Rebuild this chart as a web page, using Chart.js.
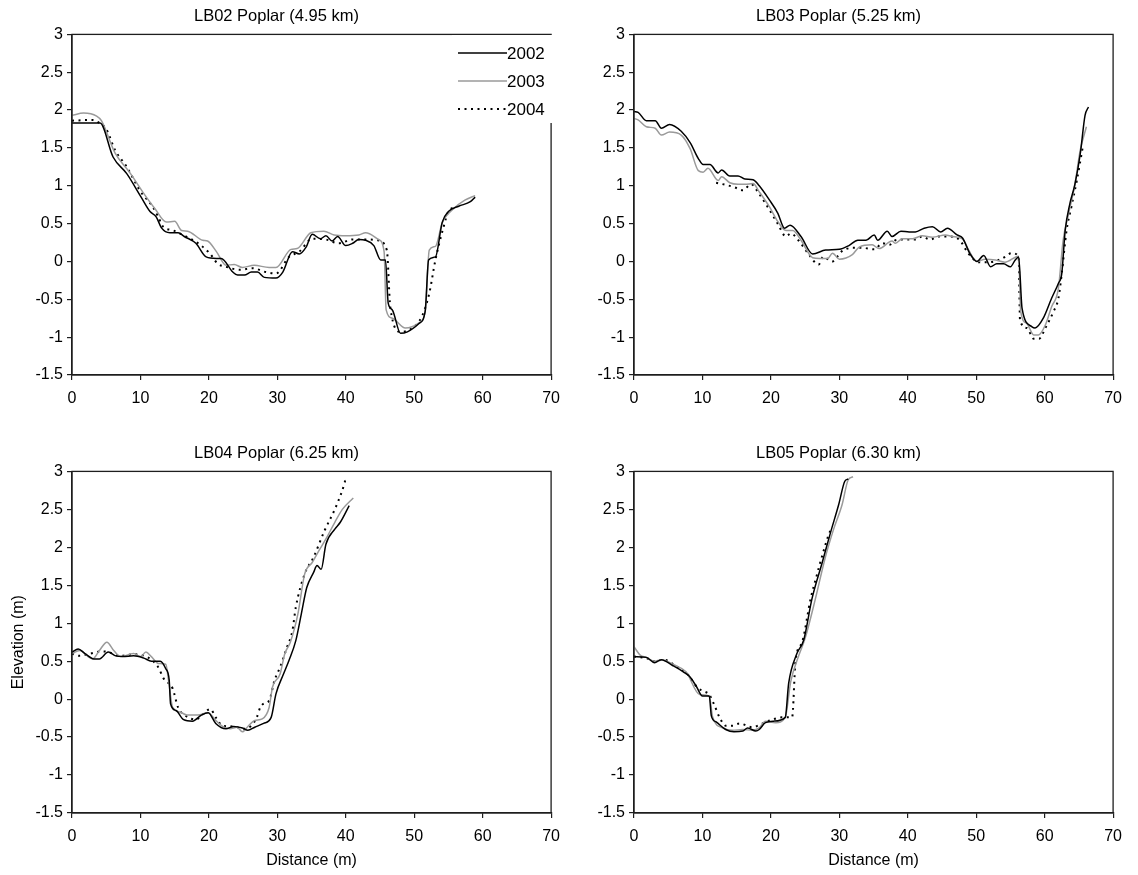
<!DOCTYPE html>
<html>
<head>
<meta charset="utf-8">
<script src="https://cdn.jsdelivr.net/npm/chart.js@4.4.1/dist/chart.umd.min.js"></script>
<style>
  html, body { margin: 0; padding: 0; background: #fff; }
  #wrap { position: relative; width: 1138px; height: 875px; overflow: hidden; background: #fff; }
  canvas { position: absolute; }
</style>
</head>
<body>
<div id="wrap">
  <canvas id="c1" width="569" height="437" style="left:0;top:0"></canvas>
  <canvas id="c2" width="569" height="437" style="left:562px;top:0"></canvas>
  <canvas id="c3" width="569" height="438" style="left:0;top:437px"></canvas>
  <canvas id="c4" width="569" height="438" style="left:562px;top:437px"></canvas>
</div>
<script>
// ---------- data: [distance (m), elevation (m)] ----------
const YEARS = ['2002', '2003', '2004'];
const PANEL_TITLES = ['LB02 Poplar (4.95 km)', 'LB03 Poplar (5.25 km)', 'LB04 Poplar (6.25 km)', 'LB05 Poplar (6.30 km)'];
const DIST_TICKS = [0, 10, 20, 30, 40, 50, 60, 70];
const ELEV_TICKS = [-1.5, -1, -0.5, 0, 0.5, 1, 1.5, 2, 2.5, 3];

const LB02_2002 = [[0,1.83],[4.1,1.83],[6.0,1.38],[8,1.16],[10.1,0.85],[11.4,0.66],[12.3,0.59],[13.1,0.44],[14.3,0.38],[15.5,0.38],[16.4,0.33],[18.1,0.24],[19.6,0.06],[21.1,0.04],[21.8,0.04],[23.5,-0.14],[24.2,-0.18],[25.2,-0.18],[26.2,-0.14],[27.1,-0.14],[28.1,-0.21],[29.8,-0.22],[30.8,-0.14],[32.2,0.13],[33.2,0.10],[34.2,0.19],[35.1,0.36],[36.3,0.30],[37.1,0.34],[38.0,0.27],[38.8,0.33],[40.0,0.21],[41,0.24],[41.9,0.29],[42.9,0.28],[44.1,0.21],[45.1,0.02],[45.8,0.02],[46.2,-0.55],[46.8,-0.64],[48.0,-0.95],[49.0,-0.93],[50.7,-0.82],[51.6,-0.66],[52.1,0.02],[53.1,0.06],[54.1,0.52],[55.0,0.66],[56.5,0.73],[58.2,0.79],[58.9,0.85]];
const LB02_2003 = [[0,1.93],[1.7,1.96],[3.6,1.92],[4.3,1.86],[6.3,1.43],[8.4,1.18],[10.4,0.91],[12.1,0.70],[13.8,0.52],[15.0,0.53],[16.0,0.41],[16.9,0.40],[19.1,0.28],[19.8,0.27],[21.1,0.13],[22.5,-0.05],[23.7,-0.04],[24.9,-0.08],[26.6,-0.05],[28.8,-0.08],[29.8,-0.08],[32.0,0.16],[32.9,0.17],[34.9,0.38],[36.8,0.40],[38.3,0.35],[40,0.34],[41.9,0.35],[42.9,0.38],[44.8,0.29],[45.6,0.13],[45.9,-0.64],[46.8,-0.75],[48.7,-0.88],[50.7,-0.81],[51.6,-0.66],[52.2,0.15],[53.1,0.20],[54.1,0.51],[55.8,0.70],[57.4,0.81],[58.9,0.87]];
const LB02_2004 = [[0,1.86],[3.1,1.87],[3.8,1.84],[5.0,1.75],[6.3,1.47],[8.0,1.25],[9.9,0.94],[11.8,0.72],[12.6,0.59],[13.3,0.46],[14.8,0.41],[16.2,0.35],[18.1,0.26],[20.1,0.11],[21.3,-0.03],[22.5,-0.07],[24.5,-0.11],[26.4,-0.09],[28.3,-0.14],[29.8,-0.16],[31.7,0.06],[33.2,0.13],[35.1,0.30],[37.1,0.29],[39.0,0.24],[41.0,0.29],[43.4,0.29],[44.6,0.28],[46.0,0.15],[46.5,-0.60],[48.0,-0.93],[49.7,-0.88],[51.1,-0.73],[52.2,-0.42],[53.1,0.02],[54.3,0.46],[55.0,0.66],[56.0,0.72]];

const LB03_2002 = [[0,1.98],[0.6,1.97],[1.8,1.86],[3.1,1.86],[4.0,1.76],[5.2,1.81],[6.9,1.72],[8.2,1.57],[9.4,1.36],[10.1,1.28],[11.1,1.28],[12.3,1.17],[12.8,1.21],[14.0,1.13],[15.2,1.13],[16.2,1.09],[17.4,1.08],[18.3,1.00],[19.8,0.81],[21.0,0.64],[22.0,0.44],[22.8,0.48],[24.4,0.33],[26.1,0.10],[28.0,0.15],[30.0,0.16],[31.4,0.21],[32.7,0.28],[33.9,0.28],[35.1,0.35],[35.6,0.28],[37.0,0.40],[37.7,0.33],[39.0,0.40],[40.2,0.39],[41.1,0.39],[42.4,0.44],[43.6,0.46],[44.8,0.39],[45.8,0.44],[47.2,0.35],[48.0,0.31],[49.1,0.10],[50.1,0.00],[51.1,0.08],[52.1,-0.07],[53.0,-0.03],[54.0,-0.03],[55.0,-0.07],[55.7,0.02],[56.2,0.06],[56.7,-0.62],[58.1,-0.86],[58.6,-0.88],[59.8,-0.75],[61.0,-0.49],[62.0,-0.29],[62.5,-0.16],[63.0,0.41],[63.7,0.77],[64.4,1.01],[65.2,1.42],[65.9,1.93],[66.4,2.04]];
const LB03_2003 = [[0,1.89],[0.6,1.87],[1.8,1.78],[3.1,1.76],[4.0,1.67],[5.2,1.71],[6.9,1.67],[8.2,1.49],[9.4,1.20],[10.1,1.18],[10.8,1.23],[12.3,1.07],[12.8,1.12],[14.0,1.04],[15.2,1.02],[16.2,1.02],[17.4,1.03],[18.3,0.92],[19.8,0.72],[21.0,0.53],[22.2,0.41],[23.2,0.41],[24.4,0.28],[26.1,0.05],[27.1,0.04],[28.3,0.04],[29.0,0.11],[30.0,0.03],[31.9,0.09],[32.9,0.19],[34.8,0.22],[35.8,0.17],[37.7,0.27],[38.2,0.24],[39.2,0.30],[40.7,0.30],[42.1,0.34],[43.6,0.32],[45.5,0.35],[46.5,0.33],[48.0,0.30],[48.9,0.15],[50.1,0.00],[51.3,0.03],[52.8,0.02],[54.2,-0.01],[56.2,0.07],[56.5,-0.66],[57.4,-0.82],[58.4,-0.97],[59.1,-0.97],[60.1,-0.84],[61.0,-0.60],[62.0,-0.36],[62.7,0.28],[63.5,0.63],[64.4,1.01],[65.2,1.47],[66.1,1.78]];
const LB03_2004 = [[12.0,1.04],[13.5,1.01],[14.7,0.98],[15.9,0.94],[17.1,1.02],[18.3,0.89],[19.8,0.68],[21.0,0.50],[22.2,0.33],[22.9,0.37],[24.2,0.26],[25.4,0.11],[27.0,-0.04],[27.6,0.06],[29.0,0.00],[30.3,0.13],[32.0,0.18],[33.4,0.18],[35.1,0.16],[36.3,0.24],[37.3,0.22],[38.2,0.28],[39.7,0.29],[41.1,0.29],[42.1,0.33],[43.3,0.29],[44.5,0.33],[46.0,0.33],[47.5,0.29],[48.9,0.10],[50.4,-0.01],[51.8,-0.01],[53.8,0.04],[55.2,0.11],[56.2,0.06],[56.4,-0.77],[57.4,-0.88],[58.4,-1.02],[59.2,-1.02],[60.1,-0.88],[61.3,-0.66],[62.0,-0.49],[62.5,-0.16],[63.2,0.41],[63.9,0.72],[64.7,1.07],[65.6,1.53]];

const LB04_2002 = [[0,0.62],[0.9,0.66],[1.9,0.60],[3.2,0.53],[4.0,0.53],[5.3,0.62],[6.4,0.57],[7.4,0.56],[9.0,0.57],[10.5,0.54],[11.6,0.50],[12.9,0.50],[13.7,0.40],[14.2,0.25],[14.4,-0.06],[15.2,-0.15],[16.3,-0.27],[17.6,-0.29],[18.9,-0.21],[19.9,-0.18],[21.0,-0.32],[22.5,-0.39],[23.6,-0.36],[24.9,-0.38],[25.7,-0.41],[26.7,-0.37],[28.0,-0.32],[29.1,-0.24],[29.8,0.07],[30.9,0.33],[31.7,0.51],[32.7,0.77],[33.5,1.12],[34.3,1.47],[35.3,1.67],[35.8,1.76],[36.4,1.71],[37.1,2.04],[38.4,2.24],[39.2,2.33],[40.5,2.55]];
const LB04_2003 = [[0,0.60],[1.1,0.64],[3.0,0.53],[4.0,0.64],[5.1,0.75],[6.1,0.64],[7.1,0.56],[9.0,0.60],[10.0,0.56],[10.8,0.62],[11.6,0.56],[12.6,0.47],[13.7,0.46],[14.1,0.25],[14.7,-0.11],[15.8,-0.17],[16.8,-0.21],[18.4,-0.21],[19.9,-0.18],[21.0,-0.28],[22.0,-0.36],[23.1,-0.39],[24.1,-0.37],[24.9,-0.43],[25.7,-0.36],[26.7,-0.28],[27.8,-0.26],[28.8,-0.11],[29.3,0.16],[30.4,0.33],[31.1,0.60],[31.9,0.75],[33.0,1.12],[34.0,1.65],[35.1,1.80],[36.1,1.96],[37.1,2.11],[38.4,2.33],[39.5,2.50],[41.1,2.65]];
const LB04_2004 = [[0,0.60],[1.1,0.57],[2.7,0.60],[4.3,0.63],[5.3,0.62],[6.9,0.57],[9.0,0.59],[11.1,0.55],[12.6,0.42],[13.4,0.27],[14.7,0.14],[15.5,-0.11],[16.3,-0.20],[18.1,-0.27],[19.1,-0.20],[20.2,-0.13],[21.0,-0.24],[22.0,-0.35],[23.6,-0.36],[25.1,-0.39],[26.2,-0.35],[27.0,-0.24],[27.5,-0.11],[28.0,-0.06],[28.8,-0.02],[29.6,0.25],[30.4,0.42],[31.4,0.68],[32.2,0.90],[32.7,1.21],[34.0,1.65],[35.3,1.87],[36.9,2.22],[38.4,2.50],[39.5,2.75],[40.0,2.88],[40.5,2.88]];

const LB05_2002 = [[0,0.56],[1.8,0.55],[3.0,0.48],[4.0,0.52],[5.7,0.44],[7.2,0.36],[8.1,0.30],[9.1,0.17],[10.0,0.04],[11.0,0.04],[11.3,-0.22],[12.0,-0.30],[13.4,-0.40],[14.6,-0.43],[15.9,-0.42],[16.6,-0.38],[17.8,-0.42],[18.3,-0.40],[19.2,-0.31],[20.4,-0.29],[22.1,-0.24],[22.6,0.21],[23.8,0.60],[24.8,0.78],[26.0,1.32],[27.5,1.80],[28.7,2.19],[29.9,2.56],[30.8,2.87],[31.3,2.90]];
const LB05_2003 = [[0,0.69],[0.9,0.58],[1.8,0.55],[3.0,0.50],[4.0,0.52],[5.9,0.45],[7.6,0.36],[9.6,0.06],[11.0,0.04],[11.5,-0.24],[13.0,-0.38],[14.4,-0.41],[15.9,-0.40],[17.3,-0.41],[18.3,-0.38],[19.2,-0.29],[20.7,-0.31],[22.1,-0.24],[22.9,0.23],[24.1,0.58],[25.0,0.80],[26.5,1.32],[27.9,1.85],[29.1,2.22],[30.4,2.56],[31.3,2.89],[32.0,2.93]];
const LB05_2004 = [[0,0.56],[1.8,0.54],[3.0,0.50],[4.3,0.52],[5.9,0.45],[7.9,0.32],[9.3,0.15],[10.3,0.10],[11.0,0.06],[11.7,-0.07],[12.5,-0.24],[13.4,-0.35],[14.4,-0.35],[15.4,-0.32],[17.3,-0.37],[18.8,-0.32],[20.2,-0.27],[21.6,-0.24],[23.1,-0.24],[23.6,0.50],[24.6,0.76],[25.8,1.32],[26.7,1.63],[27.5,1.89],[28.7,2.22],[28.9,2.24]];

// ---------- styling ----------
const FONT = '"Liberation Sans", Arial, Helvetica, sans-serif';
const AXIS_COLOR = '#1e1e1e';
const STYLES = [
  { borderColor: '#000000', borderWidth: 1.5, borderDash: [] },
  { borderColor: '#9a9a9a', borderWidth: 1.5, borderDash: [] },
  { borderColor: '#000000', borderWidth: 2, borderDash: [2, 4.5] }
];

const boxPlugin = {
  id: 'box',
  afterDatasetsDraw(chart) {
    const a = chart.chartArea, ctx = chart.ctx;
    ctx.save();
    ctx.strokeStyle = AXIS_COLOR;
    ctx.lineWidth = 1.3;
    ctx.strokeRect(a.left, a.top, a.right - a.left, a.bottom - a.top);
    ctx.restore();
  }
};

const legendPlugin = {
  id: 'customLegend',
  afterDraw(chart) {
    if (!chart.options.plugins.customLegend || !chart.options.plugins.customLegend.show) return;
    const ctx = chart.ctx;
    ctx.save();
    ctx.fillStyle = '#fff';
    ctx.fillRect(452, 35, 106, 88);
    const rows = [53, 81, 109];
    YEARS.forEach((yr, i) => {
      const s = STYLES[i];
      ctx.beginPath();
      ctx.strokeStyle = s.borderColor;
      ctx.lineWidth = s.borderWidth;
      ctx.setLineDash(s.borderDash);
      ctx.moveTo(458, rows[i]);
      ctx.lineTo(507, rows[i]);
      ctx.stroke();
      ctx.setLineDash([]);
      ctx.fillStyle = '#000';
      ctx.font = '17px ' + FONT;
      ctx.textBaseline = 'middle';
      ctx.textAlign = 'left';
      ctx.fillText(yr, 507, rows[i] + 1);
    });
    ctx.restore();
  }
};

function makePanel(id, title, seriesList, showXTitle, showYTitle, showLegend) {
  const canvas = document.getElementById(id);
  return new Chart(canvas, {
    type: 'scatter',
    data: {
      datasets: seriesList.map((pts, i) => ({
        label: YEARS[i],
        data: pts.map(p => ({ x: p[0], y: p[1] })),
        showLine: true,
        pointRadius: 0,
        pointHoverRadius: 0,
        fill: false,
        cubicInterpolationMode: 'monotone',
        borderColor: STYLES[i].borderColor,
        borderWidth: STYLES[i].borderWidth,
        borderDash: STYLES[i].borderDash,
        borderCapStyle: 'butt',
        borderJoinStyle: 'round'
      }))
    },
    options: {
      responsive: false,
      animation: false,
      devicePixelRatio: 1,
      layout: { padding: { left: 0, right: 16, top: 0, bottom: 0 } },
      plugins: {
        legend: { display: false },
        tooltip: { enabled: false },
        customLegend: { show: showLegend },
        title: {
          display: true,
          text: title,
          color: '#000',
          font: { family: FONT, size: 16.5, weight: 'normal', lineHeight: 1.2 },
          padding: { top: 6.4, bottom: 8.2 }
        }
      },
      scales: {
        x: {
          type: 'linear',
          min: 0, max: 70,
          afterBuildTicks: s => { s.ticks = DIST_TICKS.map(v => ({ value: v })); },
          afterFit: s => { s.height = 62; },
          grid: { drawOnChartArea: false, drawTicks: true, tickLength: 5, color: AXIS_COLOR, lineWidth: 1.2 },
          border: { display: true, color: AXIS_COLOR, width: 1.3 },
          ticks: { color: '#000', font: { family: FONT, size: 16 }, padding: 9, maxRotation: 0, autoSkip: false },
          title: {
            display: showXTitle, text: 'Distance (m)', color: '#000',
            font: { family: FONT, size: 16 }, padding: { top: 0, bottom: 5 }
          }
        },
        y: {
          type: 'linear',
          min: -1.5, max: 3,
          afterBuildTicks: s => { s.ticks = ELEV_TICKS.map(v => ({ value: v })); },
          afterFit: s => { s.width = 72; },
          grid: { drawOnChartArea: false, drawTicks: true, tickLength: 5, color: AXIS_COLOR, lineWidth: 1.2 },
          border: { display: true, color: AXIS_COLOR, width: 1.3 },
          ticks: { color: '#000', font: { family: FONT, size: 16 }, padding: 4, autoSkip: false,
                   callback: v => String(v) },
          title: {
            display: showYTitle, text: 'Elevation (m)', color: '#000',
            font: { family: FONT, size: 16 }, padding: { top: 9, bottom: 0 }
          }
        }
      }
    },
    plugins: [boxPlugin, legendPlugin]
  });
}

makePanel('c1', PANEL_TITLES[0], [LB02_2002, LB02_2003, LB02_2004], false, false, true);
makePanel('c2', PANEL_TITLES[1], [LB03_2002, LB03_2003, LB03_2004], false, false, false);
makePanel('c3', PANEL_TITLES[2], [LB04_2002, LB04_2003, LB04_2004], true, true, false);
makePanel('c4', PANEL_TITLES[3], [LB05_2002, LB05_2003, LB05_2004], true, false, false);
</script>
</body>
</html>
